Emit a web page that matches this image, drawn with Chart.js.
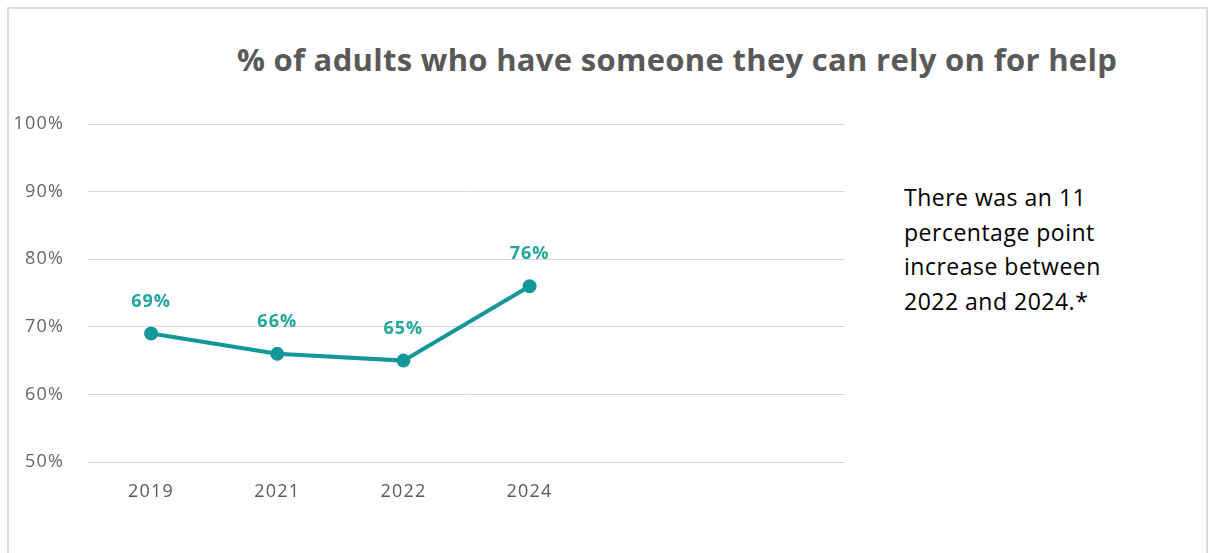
<!DOCTYPE html>
<html lang="en">

<head>
    <meta charset="UTF-8">
    <meta name="viewport" content="width=device-width, initial-scale=1.0">
    <script src="https://cdn.jsdelivr.net/npm/chart.js"></script>
    <style>
        html, body {
            margin: 0;
            padding: 0;
            background: #fff;
            overflow: hidden;
        }

        .frame {
            position: absolute;
            left: 7px;
            top: 7px;
            width: 1201px;
            height: 600px;
            border: 2px solid #dcdcdc;
            box-sizing: border-box;
        }

        .title {
            position: absolute;
            left: 217px;
            top: 38px;
            width: 920px;
            text-align: center;
            font-family: "Open Sans", sans-serif;
            font-weight: bold;
            font-size: 31px;
            letter-spacing: 0.3px;
            color: #595959;
            white-space: nowrap;
        }

        .note {
            position: absolute;
            left: 904px;
            top: 180px;
            width: 300px;
            font-family: "Open Sans", sans-serif;
            font-size: 23px;
            letter-spacing: 0.5px;
            line-height: 34.5px;
            color: #000;
            white-space: nowrap;
        }

        .chart {
            position: absolute;
            left: 0;
            top: 0;
            width: 1215px;
            height: 553px;
        }
    </style>
</head>

<body>
    <div class="frame"></div>
    <div class="title">% of adults who have someone they can rely on for help</div>
    <div class="note">There was an 11<br>percentage point<br>increase between<br>2022 and 2024.*</div>
    <div class="chart">
        <canvas id="reliedChart"></canvas>
    </div>

    <script>
        // the x axis has room for six years, only four are filled
        const years = ['2019', '2021', '2022', '2024', '', ''];
        const shares = [69, 66, 65, 76, null, null];
        const yTicks = [50, 60, 70, 80, 90, 100];

        const teal = '#15979a';

        // the original text is wider than our fonts, spread the letters a bit
        const spacing = {
            id: 'spacing',
            beforeDraw(chart) {
                chart.ctx.letterSpacing = '1.2px';
            }
        };

        // labels over each point, like the data labels of the original
        const pointLabels = {
            id: 'pointLabels',
            afterDatasetsDraw(chart) {
                const ctx = chart.ctx;
                const meta = chart.getDatasetMeta(0);
                ctx.save();
                ctx.letterSpacing = '1px';
                ctx.font = 'bold 18px "Open Sans", sans-serif';
                ctx.fillStyle = '#23a6a0';
                ctx.textAlign = 'center';
                ctx.textBaseline = 'middle';
                meta.data.forEach((pt, i) => {
                    if (shares[i] === null) return;
                    ctx.fillText(shares[i] + '%', pt.x, pt.y - 32);
                });
                ctx.restore();
            }
        };

        new Chart(document.getElementById('reliedChart'), {
            type: 'line',
            data: {
                labels: years,
                datasets: [{
                    label: '% of adults',
                    data: shares,
                    borderColor: teal,
                    backgroundColor: teal,
                    borderWidth: 4,
                    pointRadius: 5,
                    pointHoverRadius: 5,
                    tension: 0
                }]
            },
            options: {
                responsive: true,
                maintainAspectRatio: false,
                animation: false,
                layout: {
                    padding: { left: 0, right: 370, top: 124, bottom: 0 }
                },
                plugins: {
                    legend: { display: false },
                    tooltip: { enabled: false }
                },
                scales: {
                    x: {
                        offset: true,
                        grid: { display: false, drawTicks: false },
                        border: { display: false },
                        ticks: {
                            color: '#595959',
                            font: { family: '"Open Sans", sans-serif', size: 18 },
                            padding: 19,
                            maxRotation: 0
                        },
                        afterFit(scale) { scale.height = 91; }
                    },
                    y: {
                        min: 50,
                        max: 100,
                        afterBuildTicks(scale) {
                            scale.ticks = yTicks.map(v => ({ value: v }));
                        },
                        grid: { color: '#d9d9d9', lineWidth: 1, drawTicks: false },
                        border: { display: false },
                        ticks: {
                            color: '#666666',
                            font: { family: '"Open Sans", sans-serif', size: 18 },
                            padding: 24,
                            callback: v => v + '%'
                        },
                        afterFit(scale) { scale.width = 88; }
                    }
                }
            },
            plugins: [spacing, pointLabels]
        });
    </script>

</body>

</html>
